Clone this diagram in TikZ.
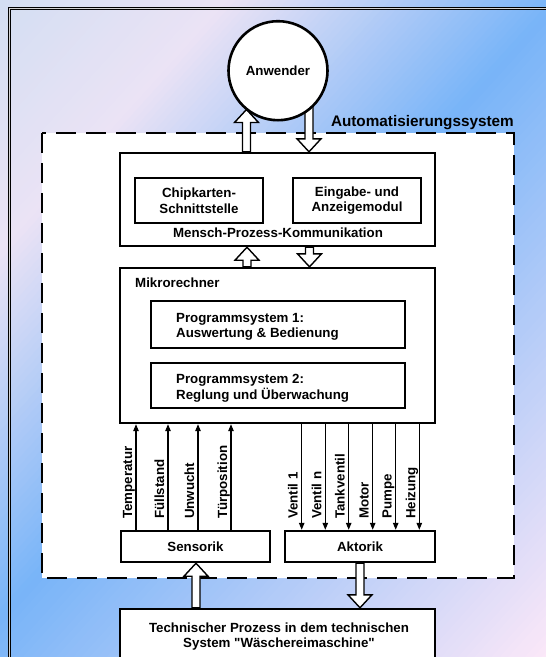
\documentclass[tikz,border=0pt]{standalone}
\usepackage{fontspec}
\setmainfont{Liberation Sans}[Ligatures=TeXOff]
\usetikzlibrary{calc,arrows.meta}

\pgfdeclarelayer{back}
\pgfdeclarelayer{mid}
\pgfsetlayers{back,mid,main}

% background colour stops
\definecolor{gA}{HTML}{D3DEF2}
\definecolor{gL}{HTML}{EBE3F5}
\definecolor{gB}{HTML}{78B4F8}
\definecolor{gP}{HTML}{FCE8F8}

% hollow block arrow from #1 to #2 (vertical), head at #2
\newcommand\sw{4pt}
\newcommand\hw{12pt}
\newcommand\hl{13pt}
\newcommand\blockarrow[2]{%
  \draw[blockarr] let \p1=(#1), \p2=(#2), \n1={ifthenelse(\y2>\y1,1,-1)} in
    ({\x1-\sw},\y1) -- ({\x1-\sw},{\y2-(\n1)*\hl}) -- ({\x1-\hw},{\y2-(\n1)*\hl})
    -- (\x1,\y2) -- ({\x1+\hw},{\y2-(\n1)*\hl}) -- ({\x1+\sw},{\y2-(\n1)*\hl})
    -- ({\x1+\sw},\y1) -- cycle;}

\begin{document}
\begin{tikzpicture}[x=1pt,y=-1pt,
  txt/.style={font=\fontsize{13.3}{15.6}\selectfont\bfseries, inner sep=0pt},
  box/.style={draw, line width=2.4pt, fill=white, inner sep=0pt, txt},
  frame/.style={draw=black, line width=0.9pt, double=gray!35, double distance=1.6pt},
  sysbox/.style={draw, fill=white, line width=2.6pt, dash pattern=on 20pt off 10pt},
  sig/.style={line width=1.1pt, -{Triangle[length=7pt,width=5.5pt]}},
  sigtxt/.style={txt, rotate=90, anchor=base west},
  blockarr/.style={draw, fill=white, line width=1.4pt, line join=miter}]

\useasboundingbox (0,0) rectangle (546,657);

\begin{pgfonlayer}{back}
  \begin{scope}
    \clip (0,0) rectangle (546,657);
    % diagonal colour bands
    \foreach \ta/\tb/\ca/\cb/\n in {0/170/gA/gL/30,170/415/gL/gB/45,415/850/gB/gP/70}{
      \foreach \i in {1,...,\n}{
        \pgfmathsetmacro\s{\ta+(\tb-\ta)*((\i-1)/\n)}
        \pgfmathsetmacro\e{\ta+(\tb-\ta)*(\i/\n)+1}
        \pgfmathsetmacro\p{100*((\i-0.5)/\n)}
        \fill[color=\cb!\p!\ca]
          ({\s*0.74+900*0.67},{\s*0.67-900*0.74}) -- ({\e*0.74+900*0.67},{\e*0.67-900*0.74})
          -- ({\e*0.74-900*0.67},{\e*0.67+900*0.74}) -- ({\s*0.74-900*0.67},{\s*0.67+900*0.74}) -- cycle;
      }
    }
    \draw[frame] (9.5,8.5) rectangle (600,720);
    \draw[sysbox] (42,133) rectangle (514,578);
  \end{scope}
\end{pgfonlayer}

\node[txt, font=\fontsize{15.3}{17}\selectfont\bfseries, anchor=base east] (sys) at (514,126) {Automatisierungssystem};

% user
\node[box, circle, minimum size=99pt, line width=2.6pt] (anw) at (278,70.7) {Anwender};

% human-process communication
\node[box, minimum width=315pt, minimum height=93pt] (mpk) at (277.5,199.5) {};
\node[box, minimum width=128pt, minimum height=45pt, align=center] (chip) at (199,200.5) {Chipkarten-\\Schnittstelle};
\node[box, minimum width=128pt, minimum height=45pt, align=center] (ein) at (357,200.5) {Eingabe- und\\Anzeigemodul};
\node[txt, anchor=base] (mpkl) at (278,237.7) {Mensch-Prozess-Kommunikation};

% micro computer
\node[box, minimum width=315pt, minimum height=155pt] (mikro) at (277.5,345.5) {};
\node[txt, anchor=base west] (mikrol) at (135,287.3) {Mikrorechner};
\node[box, minimum width=254pt, minimum height=47pt] (ps1) at (278,324.5) {};
\node[txt, align=left, anchor=west] (ps1l) at (176,326.7) {Programmsystem 1:\\Auswertung \& Bedienung};
\node[box, minimum width=254pt, minimum height=45pt] (ps2) at (278,385.5) {};
\node[txt, align=left, anchor=west] (ps2l) at (176,388.5) {Programmsystem 2:\\Reglung und Überwachung};

% sensors and actuators
\node[box, minimum width=149pt, minimum height=31pt] (sens) at (195.5,546.5) {Sensorik};
\node[box, minimum width=150pt, minimum height=31pt] (akt) at (360,546.5) {Aktorik};

% technical process
\node[box, minimum width=315pt, minimum height=80pt] (tp) at (277.5,649) {};
\node[txt, align=center] (tpl) at (279,636.5) {Technischer Prozess in dem technischen\\System "Wäschereimaschine"};

% measured signals
\foreach \x/\name/\lab in {136/s1/Temperatur,168/s2/Füllstand,198/s3/Unwucht,231/s4/Türposition}{
  \coordinate (\name) at (\x,0);
  \draw[sig] (\name |- sens.north) -- (\name |- mikro.south);
  \node[sigtxt] (\name t) at ($(\name |- 0,519)+(-4,0)$) {\lab};
}
% control signals
\foreach \x/\name/\lab in {301.7/a1/Ventil 1,325.3/a2/Ventil n,348.7/a3/Tankventil,372.7/a4/Motor,395.7/a5/Pumpe,419.3/a6/Heizung}{
  \coordinate (\name) at (\x,0);
  \draw[sig] (\name |- mikro.south) -- (\name |- akt.north);
  \node[sigtxt] (\name t) at ($(\name |- 0,519)+(-4,0)$) {\lab};
}

% block arrows
\coordinate (ua) at (246.5,0);
\coordinate (da) at (309,0);
\coordinate (ub) at (247,0);
\coordinate (db) at (309.5,0);
\coordinate (uc) at (196,0);
\coordinate (dc) at (360,0);
\begin{pgfonlayer}{mid}
  \blockarrow{ua |- mpk.north}{$(ua |- anw.south)+(0,-12)$}
  \blockarrow{da |- anw.center}{da |- mpk.north}
  \blockarrow{ub |- mikro.north}{ub |- mpk.south}
  \blockarrow{db |- mpk.south}{db |- mikro.north}
  \blockarrow{uc |- tp.north}{uc |- sens.south}
  \blockarrow{dc |- akt.south}{dc |- tp.north}
\end{pgfonlayer}
\end{tikzpicture}
\end{document}
